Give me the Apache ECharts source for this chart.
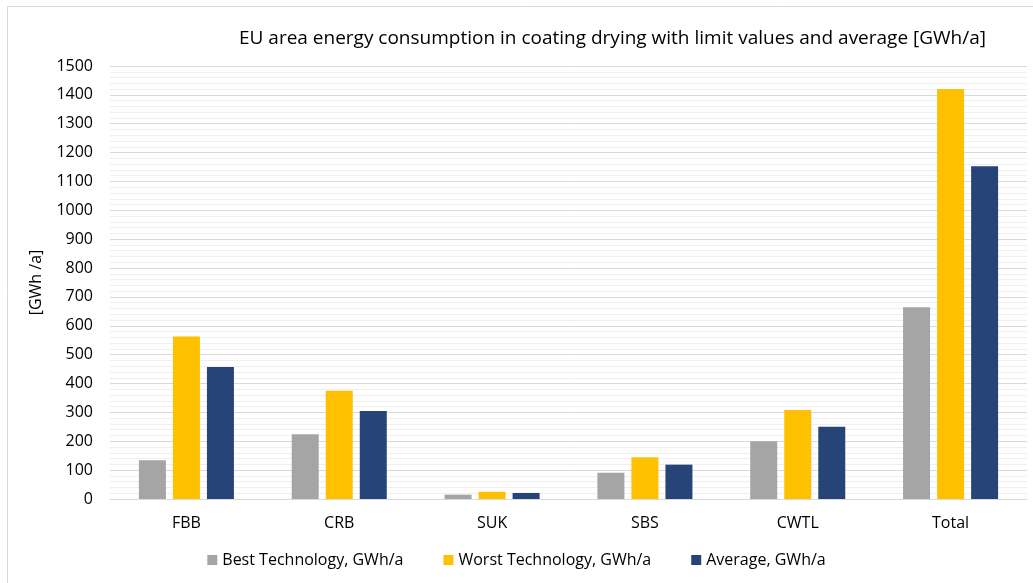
<!DOCTYPE html>
<html>
<head>
<meta charset="utf-8">
<script src="https://cdn.jsdelivr.net/npm/echarts@6/dist/echarts.min.js"></script>
<style>
html,body{margin:0;padding:0;background:#fff;}
#chart{width:1033px;height:583px;}
</style>
</head>
<body>
<div id="chart"></div>
<script>
const categories = ['FBB', 'CRB', 'SUK', 'SBS', 'CWTL', 'Total'];
const bestTech = [134, 224, 15, 91, 200, 664];
const worstTech = [563, 375, 25, 145, 308, 1420];
const averageVals = [457, 305, 21, 119, 250, 1153];
const seriesNames = ['Best Technology, GWh/a', 'Worst Technology, GWh/a', 'Average, GWh/a'];
const colors = ['#a5a5a5', '#ffc000', '#264478'];
const titleText = 'EU area energy consumption in coating drying with limit values and average [GWh/a]';
const yAxisName = '[GWh /a]';

const font = 'Open Sans, Noto Sans, sans-serif';
const chart = echarts.init(document.getElementById('chart'));
chart.setOption({
  animation: false,
  color: colors,
  graphic: [{
    type: 'rect', left: 5, top: 4,
    shape: { width: 1040, height: 600 },
    style: { fill: 'none', stroke: '#d9d9d9', lineWidth: 1 }
  }],
  title: {
    text: titleText,
    right: 42, top: 24,
    textStyle: { fontFamily: font, fontSize: 19, fontWeight: 'normal', color: '#000' }
  },
  legend: {
    bottom: 10, left: 'center',
    itemWidth: 10, itemHeight: 10, itemGap: 40,
    icon: 'rect',
    textStyle: { fontFamily: font, fontSize: 16, color: '#000' }
  },
  grid: { left: 110, right: 6, top: 66, bottom: 84, containLabel: false },
  xAxis: {
    type: 'category',
    data: categories,
    axisLine: { lineStyle: { color: '#d9d9d9', width: 1 } },
    axisTick: { show: false },
    axisLabel: { fontFamily: font, fontSize: 16, color: '#000', margin: 16 }
  },
  yAxis: {
    type: 'value',
    min: 0, max: 1500, interval: 100,
    name: yAxisName,
    nameLocation: 'middle',
    nameGap: 66,
    nameRotate: 90,
    nameTextStyle: { fontFamily: font, fontSize: 16, color: '#000' },
    axisLine: { show: false },
    axisTick: { show: false },
    axisLabel: { fontFamily: font, fontSize: 16, color: '#000', margin: 17, formatter: v => String(v) },
    splitLine: { lineStyle: { color: '#d9d9d9', width: 1 } },
    minorTick: { show: false, splitNumber: 5 },
    minorSplitLine: { show: true, lineStyle: { color: '#efefef', width: 1 } }
  },
  series: [
    { name: seriesNames[0], type: 'bar', data: bestTech, barWidth: 27, barGap: '26%' },
    { name: seriesNames[1], type: 'bar', data: worstTech, barWidth: 27, barGap: '26%' },
    { name: seriesNames[2], type: 'bar', data: averageVals, barWidth: 27, barGap: '26%' }
  ]
});
</script>
</body>
</html>
